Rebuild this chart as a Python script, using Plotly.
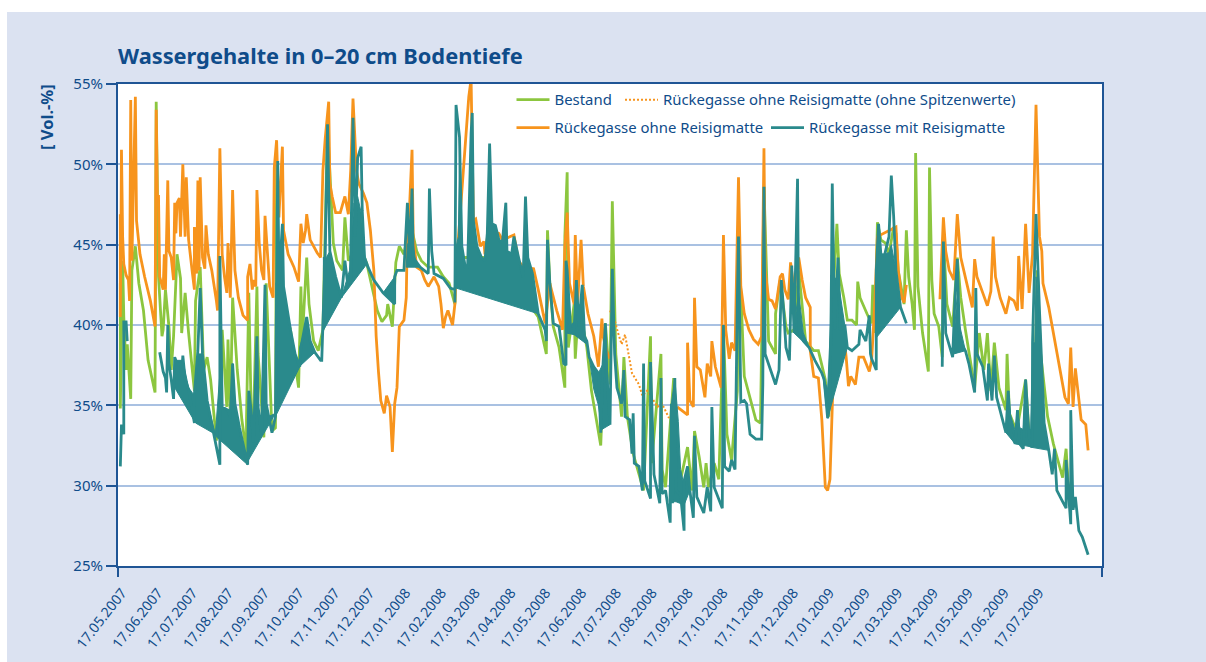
import datetime as dt
import plotly.graph_objects as go

START = dt.date(2007, 5, 17)
X_END_DAY = 850.5

y_tick_vals = [25, 30, 35, 40, 45, 50, 55]
y_tick_text = ["25%", "30%", "35%", "40%", "45%", "50%", "55%"]
x_tick_labels = ["17.05.2007", "17.06.2007", "17.07.2007", "17.08.2007", "17.09.2007", "17.10.2007",
                 "17.11.2007", "17.12.2007", "17.01.2008", "17.02.2008", "17.03.2008", "17.04.2008",
                 "17.05.2008", "17.06.2008", "17.07.2008", "17.08.2008", "17.09.2008", "17.10.2008",
                 "17.11.2008", "17.12.2008", "17.01.2009", "17.02.2009", "17.03.2009", "17.04.2009",
                 "17.05.2009", "17.06.2009", "17.07.2009"]

orange_days = [2, 2, 3, 4, 5, 7, 9, 10, 11, 12, 15, 16, 19, 23, 28, 32, 33, 34, 35, 36, 39, 40, 41, 43, 44, 46, 48, 49, 50, 51, 53, 54, 56, 58, 59, 61, 64, 66, 66, 68, 69, 70, 71, 73, 75, 76, 78, 81, 85, 86, 88, 90, 92, 94, 95, 97, 99, 101, 104, 108, 112, 112, 114, 116, 117, 119, 120, 122, 124, 126, 127, 129, 131, 134, 135, 137, 139, 142, 143, 147, 152, 156, 158, 160, 162, 163, 166, 172, 175, 177, 179, 182, 183, 185, 188, 192, 196, 199, 201, 203, 206, 208, 212, 215, 218, 221, 223, 225, 227, 230, 232, 235, 237, 239, 241, 243, 247, 249, 250, 252, 254, 255, 258, 262, 265, 268, 273, 277, 279, 281, 283, 285, 287, 289, 291, 292, 303, 305, 307, 309, 313, 316, 317, 320, 329, 332, 342, 346, 350, 359, 363, 369, 373, 379, 384, 386, 388, 390, 394, 395, 397, 400, 402, 406, 411, 415, 418, 419, 422, 425, None,
               483, 487, 492, 492, 494, 497, 498, 500, 503, 507, 509, 512, 513, 516, 521, 523, 525, 528, 530, 533, 535, 536, 538, 541, 545, 549, 553, 556, 558, 559, 562, 565, 568, 569, 572, 574, 576, 579, 581, 584, 588, 591, 594, 598, 598, 601, 605, 608, 611, 613, 615, 618, 620, 624, 627, 629, 631, 633, 637, 640, 644, 649, 651, 654, 656, 672, 674, 677, 679, 681, None,
               710, 713, 715, 718, 722, 725, 728, 732, 738, 740, 742, 747, 751, 754, 756, 758, 762, 767, 770, 774, 777, 778, 781, 784, 787, 790, 792, 793, 796, 798, 799, 804, 808, 814, 818, 821, 823, 825, 827, 832, 836, 838]
orange_vals = [46.9, 40.5, 50.9, 45.5, 43.8, 43.1, 42.8, 41.5, 54.0, 44.0, 54.2, 46.5, 44.4, 43.0, 41.5, 39.9, 53.4, 48.0, 48.0, 43.0, 42.2, 44.4, 42.2, 49.0, 44.6, 44.2, 42.8, 47.6, 45.7, 47.6, 47.9, 45.5, 50.0, 45.5, 49.2, 45.3, 43.4, 42.2, 46.1, 43.2, 49.0, 43.4, 49.2, 44.2, 43.5, 46.2, 44.4, 43.4, 41.5, 40.9, 51.0, 44.4, 43.0, 42.0, 45.1, 41.7, 48.4, 43.4, 41.7, 40.6, 40.3, 43.0, 43.8, 42.2, 42.8, 42.4, 48.4, 45.1, 43.4, 42.8, 46.8, 44.6, 42.4, 41.7, 49.8, 51.5, 46.7, 51.1, 45.9, 44.4, 43.6, 42.7, 46.3, 45.1, 45.9, 46.9, 45.3, 44.5, 44.2, 49.6, 51.6, 53.9, 48.8, 48.0, 47.0, 47.0, 48.0, 46.9, 49.6, 54.1, 49.6, 48.8, 48.2, 47.6, 45.9, 43.4, 39.3, 37.1, 35.3, 34.5, 35.6, 34.9, 32.1, 35.1, 36.1, 39.9, 40.3, 41.7, 45.9, 47.6, 50.9, 45.5, 43.6, 43.4, 42.8, 42.4, 43.0, 42.4, 41.3, 39.8, 40.5, 40.9, 40.5, 40.0, 41.3, 43.4, 54.2, 55.3, 46.5, 46.6, 44.9, 45.2, 44.4, 45.9, 45.7, 45.3, 45.6, 44.0, 43.6, 43.5, 42.2, 40.1, 42.6, 40.9, 39.7, 44.9, 47.0, 42.6, 41.3, 45.6, 41.3, 45.3, 42.4, 40.7, 39.3, 37.4, 40.4, 39.3, 38.4, 37.9, None,
               34.9, 34.7, 34.4, 38.9, 35.3, 34.9, 41.7, 37.4, 37.2, 35.5, 37.6, 36.8, 39.0, 37.4, 36.1, 45.6, 39.7, 37.9, 38.9, 38.4, 46.1, 49.2, 42.4, 40.7, 39.7, 39.1, 38.8, 39.3, 51.0, 43.4, 41.6, 41.5, 41.0, 41.5, 43.0, 43.2, 42.2, 41.6, 43.9, 42.2, 44.2, 42.8, 41.7, 41.1, 38.4, 36.8, 36.7, 34.1, 29.9, 29.7, 30.4, 37.2, 39.7, 40.5, 39.3, 38.0, 36.2, 36.8, 36.3, 38.0, 38.0, 37.1, 37.8, 41.7, 45.5, 46.1, 43.4, 41.7, 41.4, 42.5, None,
               41.6, 46.7, 44.6, 43.4, 42.8, 46.9, 44.2, 43.0, 41.1, 44.1, 43.0, 42.0, 41.2, 42.1, 45.5, 43.0, 41.7, 40.7, 41.7, 41.5, 40.9, 44.3, 41.0, 46.3, 42.0, 44.4, 50.8, 53.7, 45.5, 44.6, 42.6, 41.1, 39.5, 37.2, 35.5, 35.1, 38.6, 34.9, 37.3, 34.1, 33.8, 32.2]

dotted_days = [425, 429, 432, 435, 438, 441, 444, 450, 453, 457, 461, 466, 470, 476]
dotted_vals = [40.9, 40.3, 39.5, 38.8, 39.4, 38.2, 37.0, 36.3, 35.6, 35.9, 35.5, 34.9, 35.1, 34.2]

green_days = [2, 2, 4, 5, 7, 8, 11, 12, 15, 18, 22, 26, 32, 33, 35, 38, 39, 41, 44, 46, 48, 51, 54, 55, 58, 61, 66, 67, 71, 74, 77, 80, 85, 88, 90, 94, 95, 97, 99, 103, 107, 111, 111, 113, 115, 117, 120, 121, 126, 128, 133, 136, 137, 139, 143, 149, 156, 158, 159, 163, 165, 169, 173, 177, 181, 184, 186, 189, 194, 196, 198, 199, 201, 206, 215, 224, 228, 232, 233, 237, 240, 243, 247, 250, 254, 258, 262, 268, 274, 276, 281, 286, 291, 292, 327, 363, 366, 370, 371, 373, 376, 381, 386, 386, 388, 389, 394, 395, 398, 405, 409, 417, 421, 425, 427, 430, 435, 437, 440, 445, 454, 460, 461, 469, 470, 473, 480, 484, 492, 496, 498, 502, 506, 508, 510, 515, 519, 523, 526, 530, 535, 536, 541, 546, 551, 555, 558, 562, 568, 568, 572, 577, 579, 584, 588, 594, 601, 605, 611, 614, 617, 621, 623, 627, 630, 634, 638, 639, 641, 647, 651, 652, 654, 656, 659, 663, 666, 670, 672, 674, 679, 681, 683, 686, 688, 689, 691, 695, 700, 701, 703, 705, 709, 712, 713, 716, 721, 725, 728, 732, 736, 740, 744, 748, 751, 754, 757, 761, 767, 768, 770, 775, 778, 784, 787, 791, 794, 797, 803, 808, 816, 819, 821]
green_vals = [42.6, 34.8, 44.0, 40.5, 37.2, 38.8, 35.4, 43.4, 44.9, 42.6, 40.9, 37.8, 35.8, 53.9, 43.0, 39.3, 39.7, 42.2, 39.9, 37.2, 39.3, 44.4, 42.9, 39.5, 42.0, 39.5, 35.9, 41.5, 43.6, 37.2, 38.0, 36.6, 32.8, 35.1, 39.7, 34.9, 39.1, 34.3, 41.7, 37.2, 34.1, 32.0, 34.1, 42.0, 34.7, 33.9, 42.4, 38.2, 33.0, 42.6, 33.4, 33.6, 50.0, 42.6, 41.3, 39.7, 36.1, 42.4, 38.8, 44.2, 41.3, 39.0, 38.4, 39.7, 52.5, 47.8, 45.1, 44.0, 43.4, 46.7, 44.6, 44.0, 44.2, 45.5, 43.8, 40.9, 40.2, 40.6, 41.3, 39.9, 43.9, 44.9, 44.4, 45.5, 45.9, 44.6, 44.0, 43.6, 43.6, 43.6, 43.0, 42.6, 41.3, 44.2, 44.2, 40.5, 39.5, 38.2, 45.9, 42.6, 39.9, 38.6, 36.1, 45.5, 49.5, 38.6, 41.3, 37.9, 41.3, 38.6, 35.9, 32.5, 40.1, 36.3, 47.7, 38.2, 34.3, 38.0, 34.3, 32.0, 29.7, 39.3, 31.4, 38.2, 31.0, 29.9, 36.7, 29.7, 32.4, 29.7, 33.4, 31.8, 29.9, 31.4, 29.9, 31.4, 30.4, 39.9, 33.2, 31.6, 35.9, 45.5, 36.8, 35.5, 34.1, 33.9, 48.6, 39.0, 38.2, 40.7, 42.8, 39.9, 39.5, 39.7, 43.4, 39.0, 38.4, 38.4, 36.6, 34.3, 40.9, 46.3, 43.2, 41.7, 40.3, 40.3, 40.0, 42.7, 41.7, 40.7, 40.1, 42.5, 39.5, 46.4, 45.3, 45.1, 44.4, 46.1, 45.7, 43.4, 41.3, 45.9, 43.0, 41.3, 39.7, 50.7, 42.4, 39.5, 37.1, 49.8, 42.8, 40.7, 39.9, 38.0, 45.5, 41.3, 39.9, 44.2, 41.7, 39.7, 38.0, 36.1, 39.5, 37.2, 39.5, 35.9, 38.9, 36.1, 34.7, 38.2, 34.5, 33.6, 34.1, 36.6, 33.2, 32.4, 43.4, 38.2, 34.3, 32.6, 30.5, 32.3, 29.9]

teal_days = [2, 3, 5, 5, 7, 8, None,
             36, 38, 39, 41, 42, 43, 44, 46, 48, 49, 51, 54, 55, 56, 58, 61, 66, 66, 69, 71, 73, 77, 82, 85, 88, 88, 90, 95, 97, 99, 101, 105, 112, 113, 115, 117, 120, 121, 124, 127, 128, 130, 133, 136, 137, 138, 139, 142, 143, 149, 153, 157, 158, 163, 166, 170, 175, 176, 179, 181, 183, 188, 193, 196, 198, 201, 201, 203, 205, 207, 210, 211, 213, 216, 221, 229, 239, 239, 241, 247, 250, 252, 254, 255, 261, 268, 269, 271, 273, 281, 287, 291, 291, 292, 295, 297, 300, 302, 305, 306, 307, 310, 314, 317, 319, 321, 323, 326, 329, 332, 335, 336, 340, 342, 346, 350, 352, 354, 358, 363, 369, 370, 371, 373, 376, 381, 385, 387, 387, 388, 391, 394, 396, 398, 401, 403, 405, 407, 411, 415, 417, 419, 421, 422, 425, 427, 429, 431, 435, 437, 438, 442, 444, 445, 446, 450, 453, 454, 455, 460, 460, 463, 468, 469, 470, 473, 477, 478, 479, 481, 482, 486, 489, 489, 492, 494, 497, 498, 500, 506, 509, 512, 513, 515, 522, 523, 524, 528, 530, 533, 535, 536, 538, 541, 543, 546, 551, 556, 557, 558, 559, 564, 568, 571, 573, 575, 577, 580, 582, 584, 587, 588, 592, 597, 602, 608, 610, 613, 615, 616, 617, 619, 622, 624, 628, 630, 634, 640, 641, 646, 649, 650, 651, 655, 655, 657, 659, 662, 666, 668, 670, 672, 676, 681, None,
             712, 713, 715, 719, 721, 723, 725, 727, 732, 735, 740, 741, 742, 747, 751, 752, 755, 757, 759, 767, 769, 771, 775, 777, 779, 782, 784, 787, 790, 790, 793, 796, 800, 804, 807, 809, 811, 816, 819, 819, 823, 823, 825, 827, 830, 833, 838]
teal_vals = [31.2, 33.8, 33.2, 40.2, 40.2, 39.0, None,
             38.3, 37.4, 37.1, 36.7, 35.8, 40.0, 37.6, 36.6, 35.4, 38.0, 37.6, 37.6, 36.8, 38.1, 36.6, 36.0, 33.9, 35.7, 38.4, 42.3, 38.2, 35.3, 33.6, 32.4, 31.3, 44.3, 34.9, 34.7, 34.2, 37.6, 35.1, 33.6, 31.3, 35.9, 34.7, 32.7, 39.3, 34.9, 33.2, 42.5, 35.1, 34.3, 33.3, 34.3, 43.4, 50.2, 42.6, 46.3, 42.4, 39.7, 38.2, 37.4, 38.6, 40.5, 39.0, 38.3, 37.8, 37.8, 44.4, 52.5, 44.6, 43.0, 41.7, 44.0, 42.8, 42.6, 44.2, 52.9, 45.5, 50.4, 51.1, 47.1, 44.2, 43.6, 42.8, 42.0, 41.3, 43.0, 43.4, 43.4, 47.6, 44.2, 48.5, 44.2, 43.6, 43.2, 48.5, 44.6, 43.2, 42.9, 42.3, 42.2, 41.4, 53.7, 51.7, 44.9, 43.6, 43.6, 51.9, 53.2, 46.5, 44.9, 44.2, 44.0, 45.7, 51.3, 46.3, 46.2, 45.3, 45.1, 47.6, 44.6, 44.4, 45.5, 44.2, 43.0, 48.0, 44.2, 43.2, 40.7, 39.7, 39.0, 45.3, 42.6, 40.1, 39.9, 37.6, 37.5, 44.0, 43.4, 39.7, 39.5, 42.8, 39.9, 42.5, 39.3, 39.0, 38.0, 37.4, 37.0, 33.3, 37.6, 40.1, 37.2, 33.8, 43.5, 38.2, 36.1, 35.1, 37.2, 34.3, 34.1, 32.0, 34.5, 31.4, 31.2, 29.7, 37.6, 30.3, 29.2, 37.7, 30.7, 28.9, 36.7, 29.5, 29.7, 27.7, 35.1, 28.9, 36.7, 29.7, 29.4, 27.2, 30.3, 31.2, 29.7, 28.0, 33.1, 29.3, 28.3, 29.9, 28.4, 34.9, 29.9, 28.6, 40.0, 31.2, 30.9, 31.6, 31.0, 41.5, 45.5, 35.2, 35.3, 35.1, 33.2, 32.9, 32.9, 36.3, 48.6, 38.2, 37.2, 36.3, 37.2, 42.8, 40.9, 38.6, 37.8, 43.7, 39.5, 49.1, 39.7, 39.0, 38.6, 37.8, 37.0, 36.6, 34.2, 35.1, 40.9, 48.8, 39.7, 44.2, 39.7, 39.9, 38.6, 38.4, 38.8, 39.7, 39.0, 40.6, 38.2, 37.9, 37.2, 43.4, 46.3, 44.4, 44.3, 45.5, 49.3, 46.8, 43.4, 41.1, 40.1, None,
             37.4, 45.2, 39.5, 38.6, 38.0, 41.7, 44.1, 39.0, 38.4, 37.6, 35.8, 42.3, 38.2, 37.4, 35.3, 37.6, 35.3, 38.1, 35.5, 33.3, 35.9, 33.4, 32.6, 34.7, 32.6, 32.3, 36.6, 33.0, 32.4, 38.9, 46.9, 40.9, 33.9, 32.2, 30.7, 32.3, 29.7, 29.0, 28.6, 31.6, 27.6, 34.7, 28.5, 29.3, 27.2, 26.8, 25.7]

# Areas where the teal series oscillates too densely to be resolved at this scale
band_days = [49, 56, 61, 66, 69, 73, 77, 84, 67, 49, None,
             88, 90, 95, 97, 99, 101, 105, 112, 84, 88, None,
             112, 113, 115, 117, 120, 121, 124, 127, 128, 130, 136, 112, None,
             136, 139, 142, 143, 149, 153, 157, 136, None,
             157, 163, 166, 170, 158, 157, None,
             177, 180, 183, 188, 193, 177, None,
             193, 200, 201, 203, 205, 207, 210, 213, 215, 193, None,
             229, 239, 239, 229, None,
             249, 250, 254, 257, 261, 249, None,
             291, 294, 295, 297, 300, 302, 305, 307, 310, 314, 317, 319, 321, 323, 326, 329, 332, 335, 336, 340, 342, 346, 350, 352, 354, 358, 363, 292, 291, None,
             387, 388, 391, 394, 396, 398, 401, 403, 405, 394, 387, None,
             407, 411, 415, 419, 421, 423, 425, 418, 415, 411, 407, None,
             476, 478, 481, 484, 486, 489, 492, 494, 489, 482, 476, None,
             584, 586, 588, 592, 597, 584, None,
             609, 613, 630, 628, 622, 618, 616, 613, 609, None,
             655, 655, 657, 660, 666, 668, 672, 676, 655, None,
             722, 725, 727, 732, 722, None,
             767, 769, 771, 775, 777, 779, 782, 784, 787, 790, 790, 775, 767, None,
             788, 790, 792, 793, 796, 800, 804, 788]
band_vals = [37.8, 37.8, 36.1, 35.6, 38.2, 38.2, 35.3, 33.2, 33.9, 36.1, None,
             37.0, 34.9, 34.7, 34.2, 37.6, 35.1, 33.6, 31.3, 33.1, 37.0, None,
             31.5, 35.9, 34.7, 32.7, 38.0, 34.9, 33.2, 38.0, 35.1, 34.3, 34.5, 31.5, None,
             42.6, 42.6, 45.9, 42.4, 39.7, 38.2, 37.4, 34.3, None,
             38.6, 40.1, 39.0, 38.3, 37.5, 38.6, None,
             44.2, 44.2, 44.6, 43.0, 41.7, 39.6, None,
             41.7, 43.4, 44.2, 47.6, 45.5, 48.0, 47.0, 44.2, 43.8, 41.7, None,
             42.0, 43.0, 41.3, 42.0, None,
             43.6, 45.0, 45.6, 44.0, 43.6, 43.6, None,
             44.5, 45.5, 51.0, 44.9, 43.6, 43.6, 51.9, 46.5, 44.9, 44.2, 44.0, 45.7, 50.0, 46.3, 46.2, 45.3, 45.1, 47.6, 44.6, 44.4, 45.5, 44.2, 43.0, 47.0, 44.2, 43.2, 40.7, 42.3, 44.5, None,
             39.5, 43.0, 40.0, 40.2, 42.0, 40.0, 42.0, 39.3, 38.8, 39.4, 39.5, None,
             38.0, 37.4, 37.0, 37.6, 40.1, 37.0, 33.8, 33.5, 35.0, 36.0, 38.0, None,
             29.0, 35.1, 36.7, 34.0, 31.0, 30.0, 31.2, 29.7, 28.8, 29.0, 29.0, None,
             39.5, 41.0, 42.0, 39.5, 38.6, 39.5, None,
             36.8, 34.2, 38.6, 39.9, 42.8, 43.0, 40.9, 36.0, 36.8, None,
             39.2, 43.4, 45.0, 44.4, 44.5, 45.0, 43.4, 41.1, 39.2, None,
             39.0, 42.0, 40.0, 38.4, 38.2, None,
             33.3, 35.9, 34.4, 33.4, 34.7, 33.6, 33.5, 36.6, 33.5, 33.5, 32.4, 32.6, 33.3, None,
             32.4, 38.9, 38.9, 43.0, 40.9, 33.9, 32.2, 32.4]

GREEN = "#8cc63f"
ORANGE = "#f7941d"
TEAL = "#2a8a8c"
NAVY = "#0f4c8a"
AXIS = "#1f5595"
GRID = "#a9c1e2"
PANEL = "#dbe2f1"


def to_dates(days):
    return [None if d is None else START + dt.timedelta(days=d) for d in days]


tick_dates = [dt.datetime.strptime(s, "%d.%m.%Y").date() for s in x_tick_labels]

fig = go.Figure()
fig.add_trace(go.Scatter(x=to_dates(green_days), y=green_vals, name="Bestand", mode="lines",
                         line=dict(color=GREEN, width=2.8), legend="legend"))
fig.add_trace(go.Scatter(x=to_dates(orange_days), y=orange_vals, name="Rückegasse ohne Reisigmatte", mode="lines",
                         line=dict(color=ORANGE, width=2.8), legend="legend2"))
fig.add_trace(go.Scatter(x=to_dates(dotted_days), y=dotted_vals, name="Rückegasse ohne Reisigmatte (ohne Spitzenwerte)",
                         mode="lines", line=dict(color=ORANGE, width=2, dash="2px 2px"), legend="legend3"))
fig.add_trace(go.Scatter(x=to_dates(band_days), y=band_vals, mode="lines", fill="toself", fillcolor=TEAL,
                         line=dict(color=TEAL, width=1), showlegend=False, hoverinfo="skip"))
fig.add_trace(go.Scatter(x=to_dates(teal_days), y=teal_vals, name="Rückegasse mit Reisigmatte", mode="lines",
                         line=dict(color=TEAL, width=2.8), legend="legend4"))

L, R, T, B = 118, 1102, 84, 566
W, H = R - L, B - T


def px(x):
    return (x - L) / W


def py(y):
    return (B - y) / H


def legend_at(x, y):
    return dict(x=px(x), y=py(y), xanchor="left", yanchor="middle", bgcolor="rgba(0,0,0,0)",
                itemwidth=33, font=dict(family="Noto Sans", size=14.9, color=NAVY), itemclick=False)


shapes = [
    dict(type="rect", xref="paper", yref="paper", x0=px(0), x1=px(7), y0=py(662), y1=py(0),
         fillcolor="white", line=dict(width=0), layer="below"),
    dict(type="rect", xref="paper", yref="paper", x0=px(0), x1=px(1206), y0=py(12), y1=py(0),
         fillcolor="white", line=dict(width=0), layer="below"),
    dict(type="line", xref="paper", yref="paper", x0=0, x1=0, y0=py(577), y1=0, line=dict(color=AXIS, width=2)),
    dict(type="line", xref="paper", yref="paper", x0=1, x1=1, y0=py(577), y1=0, line=dict(color=AXIS, width=2)),
]

fig.update_layout(
    width=1206, height=662, autosize=False,
    margin=dict(l=L, r=1206 - R, t=T, b=662 - B, autoexpand=False),
    paper_bgcolor=PANEL, plot_bgcolor="white",
    font=dict(family="Noto Sans", color=NAVY),
    showlegend=True,
    legend=legend_at(511.5, 100),
    legend2=legend_at(511.5, 128),
    legend3=legend_at(620, 100),
    legend4=legend_at(766, 128),
    shapes=shapes,
    annotations=[
        dict(text="<b>Wassergehalte in 0–20 cm Bodentiefe</b>", xref="paper", yref="paper", x=px(116), y=py(55),
             xanchor="left", yanchor="middle", showarrow=False, font=dict(family="Noto Sans", size=21.8, color=NAVY)),
        dict(text="<b>[ Vol.-%]</b>", xref="paper", yref="paper", x=px(46), y=py(117), textangle=-90,
             xanchor="center", yanchor="middle", showarrow=False, font=dict(family="Noto Sans", size=16.5, color=NAVY)),
    ],
    xaxis=dict(type="date", range=[START, START + dt.timedelta(days=X_END_DAY)], tickmode="array",
               tickvals=tick_dates, ticktext=x_tick_labels, tickangle=-52, ticks="outside", ticklen=11,
               ticklabelshift=4, tickcolor="rgba(0,0,0,0)", showgrid=False, zeroline=False, automargin=False,
               showline=True, mirror=True, linecolor=AXIS, linewidth=2,
               tickfont=dict(family="Noto Sans", size=14, color=NAVY)),
    yaxis=dict(range=[25, 55], tickmode="array", tickvals=y_tick_vals, ticktext=y_tick_text, ticks="outside",
               ticklen=10, tickwidth=2, tickcolor=AXIS, showgrid=True, gridcolor=GRID, gridwidth=1.5, zeroline=False,
               showline=True, mirror=True, linecolor=AXIS, linewidth=2,
               tickfont=dict(family="Noto Sans", size=15, color=NAVY)),
)

fig.write_html("out.html", config={"displayModeBar": False}, post_script="document.body.style.margin='0';")
